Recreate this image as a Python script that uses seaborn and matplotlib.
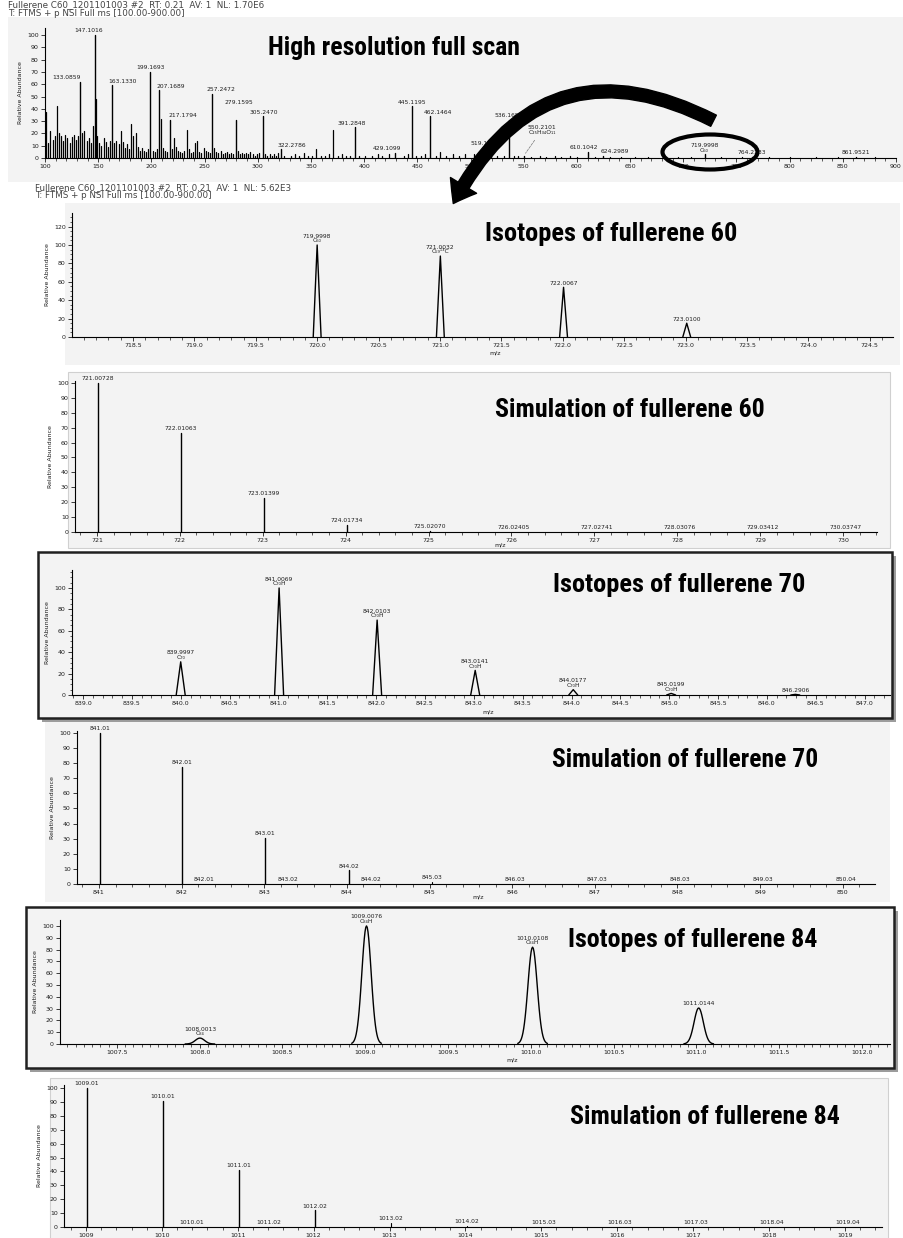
import numpy as np
import pandas as pd
import matplotlib
matplotlib.use("Agg")
import matplotlib.pyplot as plt
import seaborn as sns
from matplotlib import font_manager
from matplotlib.patches import Rectangle, Ellipse, FancyArrowPatch
from matplotlib.ticker import MultipleLocator, FormatStrFormatter

# ---------------- spectra ----------------
# full scan: labelled ions
FULL_MZ = [133.0859, 147.1016, 163.1330, 199.1693, 207.1689, 217.1794, 257.2472,
           279.1595, 305.2470, 322.2786, 391.2848, 429.1099, 445.1195, 462.1464,
           519.1907, 536.1653, 610.1042, 624.2989, 764.2233, 861.9521]
FULL_AB = [62, 100, 59, 70, 55, 31, 52, 31, 34, 7, 25, 4, 42, 34, 8, 31, 5, 2, 1, 1]
C60_FULL_MZ = [719.9998]
C60_FULL_AB = [3]
C60_FULL_TXT = ["719.9998\nC₆₀"]
ION_MZ = [550.2101]
ION_AB = [2]
ION_TXT = ["550.2101\nC₂₅H₃₄O₁₁"]

# full scan: unlabelled background ions
NOISE_MZ = [
    101.1, 103.1, 105.1, 107.1, 109.1, 111.1, 113.1, 115.1, 117.1, 119.1,
    121.1, 123.1, 125.1, 127.1, 129.1, 131.1, 135.1, 137.1, 139.1, 141.1,
    143.1, 145.1, 148.1, 149.1, 151.1, 153.1, 155.1, 157.1, 159.1, 161.1,
    165.1, 167.1, 169.1, 171.1, 173.1, 175.1, 177.1, 179.1, 181.1, 183.1,
    185.1, 187.1, 189.1, 191.1, 193.1, 195.1, 197.1, 201.1, 203.1, 205.1,
    209.1, 211.1, 213.1, 215.1, 219.1, 221.1, 223.1, 225.1, 227.1, 229.1,
    231.1, 233.1, 235.1, 237.1, 239.1, 241.1, 243.1, 245.1, 247.1, 249.1,
    251.1, 253.1, 255.1, 259.1, 261.1, 263.1, 265.1, 267.1, 269.1, 271.1,
    273.1, 275.1, 277.1, 281.1, 283.1, 285.1, 287.1, 289.1, 291.1, 293.1,
    295.1, 297.1, 299.1, 301.1, 307.1, 309.1, 311.1, 313.1, 315.1, 317.1,
    319.1, 325.1, 331.1, 335.1, 339.1, 343.1, 347.1, 351.1, 355.1, 359.1,
    363.1, 367.1, 371.2, 375.1, 379.1, 383.1, 387.1, 395.1, 401.1, 407.1,
    413.1, 417.1, 423.1, 437.1, 441.1, 449.1, 453.1, 457.1, 467.1, 471.1,
    477.1, 483.1, 489.1, 495.1, 503.2, 509.1, 513.1, 525.1, 531.1, 541.1,
    545.1, 557.1, 565.1, 571.1, 579.1, 585.1, 593.1, 600.1, 617.1, 631.1,
    641.1, 655.1, 667.1, 681.1, 695.1, 707.1, 735.2, 755.2, 780.2, 800.2,
    825.2, 845.2, 880.2,
]
NOISE_AB = [
    37, 12, 22, 15, 18, 42, 20, 18, 14, 19,
    16, 12, 17, 19, 15, 18, 20, 22, 14, 16,
    12, 26, 48, 18, 12, 10, 16, 13, 9, 14,
    12, 14, 11, 22, 13, 8, 11, 7, 28, 18,
    20, 9, 6, 8, 6, 5, 7, 6, 5, 7,
    32, 8, 6, 5, 7, 16, 9, 6, 5, 4,
    6, 23, 7, 4, 5, 12, 14, 5, 4, 8,
    6, 5, 4, 8, 5, 4, 6, 3, 4, 5,
    3, 4, 3, 6, 3, 4, 3, 4, 3, 5,
    3, 2, 3, 4, 3, 2, 3, 2, 3, 2,
    4, 2, 2, 3, 2, 4, 2, 2, 7, 2,
    2, 3, 23, 2, 3, 2, 2, 2, 2, 2,
    3, 2, 3, 2, 3, 2, 2, 3, 2, 5,
    2, 3, 2, 3, 3, 2, 2, 2, 1.5, 1.5,
    1.5, 1, 1.5, 1, 1.5, 1, 1.5, 1, 1, 1,
    1, 1, 1, 1, 1, 1, 1, 1, 1, 1,
    1, 1, 1,
]

# C60 isotopes, measured
ISO60_MZ = [719.9998, 721.0032, 722.0067, 723.0100]
ISO60_AB = [100, 88, 54, 15]
ISO60_FORM = ["C₆₀", "C₅₉¹³C", "", ""]

# C60 simulated isotope pattern
SIM60_MZ = [721.00728, 722.01063, 723.01399, 724.01734, 725.02070,
            726.02405, 727.02741, 728.03076, 729.03412, 730.03747]
SIM60_AB = [100, 66.4, 22.8, 5.0, 0.9, 0.15, 0.02, 0.003, 0.0003, 0.00002]

# C70 isotopes, measured
ISO70_MZ = [839.9997, 841.0069, 842.0103, 843.0141, 844.0177, 845.0199, 846.2906]
ISO70_AB = [31, 100, 70, 23, 5, 1.5, 0.6]
ISO70_FORM = ["C₇₀", "C₇₀H", "C₇₀H", "C₇₀H", "C₇₀H", "C₇₀H", ""]

# C70 simulated
SIM70_MZ = [841.01, 842.01, 843.01, 844.02]
SIM70_AB = [100, 77.5, 30.4, 9]
SIM70_MINOR_MZ = [842.01, 843.02, 844.02, 845.03, 846.03, 847.03, 848.03, 849.03, 850.04]
SIM70_MINOR_AB = [0.3, 0.3, 0.3, 1.5, 0.25, 0.03, 0.003, 0.0003, 0.00002]

# C84 isotopes, measured
ISO84_MZ = [1008.0013, 1009.0076, 1010.0108, 1011.0144]
ISO84_AB = [5, 100, 82, 30.5]
ISO84_FORM = ["C₈₄", "C₈₄H", "C₈₄H", ""]

# C84 simulated
SIM84_MZ = [1009.01, 1010.01, 1011.01, 1012.02]
SIM84_AB = [100, 91, 41, 12]
SIM84_MINOR_MZ = [1010.01, 1011.02, 1013.02, 1014.02, 1015.03, 1016.03, 1017.03, 1018.04, 1019.04]
SIM84_MINOR_AB = [0.3, 0.3, 3.0, 0.6, 0.08, 0.01, 0.001, 0.0001, 0.00001]

TITLES = ["High resolution full scan", "Isotopes of fullerene 60", "Simulation of fullerene 60",
          "Isotopes of fullerene 70", "Simulation of fullerene 70", "Isotopes of fullerene 84",
          "Simulation of fullerene 84"]
HEADER_FULL = ["Fullerene C60_1201101003 #2  RT: 0.21  AV: 1  NL: 1.70E6",
               "T: FTMS + p NSI Full ms [100.00-900.00]"]
HEADER_ZOOM = ["Fullerene C60_1201101003 #2  RT: 0.21  AV: 1  NL: 5.62E3",
               "T: FTMS + p NSI Full ms [100.00-900.00]"]

# ---------------- style ----------------
sns.set_theme(style="white")
plt.rcParams["font.family"] = ["DejaVu Sans"]
BG = "#f3f3f3"
INK = "#1e1e1e"

# narrowest installed sans for the panel captions
_installed = {(f.name, f.stretch) for f in font_manager.fontManager.ttflist}
_names = {n for n, _ in _installed}
TITLE_FONT, TITLE_STRETCH = "DejaVu Sans", "normal"
for cand in ["Liberation Sans Narrow", "Roboto Condensed", "Open Sans Condensed",
             "Noto Sans Condensed", "DejaVu Sans Condensed"]:
    if cand in _names:
        TITLE_FONT = cand
        break
else:
    for n, s in _installed:
        if n in ("DejaVu Sans", "Noto Sans", "Open Sans", "Roboto") and s in (
                "condensed", "semi-condensed", "extra-condensed", 75, 87.5, 62.5):
            TITLE_FONT, TITLE_STRETCH = n, s
            break

W, H = 904, 1238
fig = plt.figure(figsize=(W / 100, H / 100), dpi=100)
fig.patch.set_facecolor("white")


def fbox(l, t, r, b):
    return [l / W, 1 - b / H, (r - l) / W, (b - t) / H]


def fxy(x, y):
    return (x / W, 1 - y / H)


def ftext(x, y, s, **kw):
    return fig.text(x / W, 1 - y / H, s, **kw)


def panel_bg(l, t, r, b, edge=None):
    fig.add_artist(Rectangle(fxy(l, b), (r - l) / W, (b - t) / H, transform=fig.transFigure,
                             facecolor=BG, edgecolor=edge or "none", lw=0.8, zorder=-5))


def framed_bg(l, t, r, b):
    fig.add_artist(Rectangle(fxy(l + 4, b + 4), (r - l) / W, (b - t) / H, transform=fig.transFigure,
                             facecolor="#9c9c9c", edgecolor="none", zorder=-6))
    fig.add_artist(Rectangle(fxy(l, b), (r - l) / W, (b - t) / H, transform=fig.transFigure,
                             facecolor=BG, edgecolor="#202020", lw=1.8, zorder=-5))


def stick_df(mz, ab):
    rows = []
    for i, (m, a) in enumerate(zip(mz, ab)):
        rows += [(i, m, 0.0), (i, m, a)]
    return pd.DataFrame(rows, columns=["peak", "mz", "ab"])


def triangle_df(mz, ab, hw):
    rows = []
    for i, (m, a) in enumerate(zip(mz, ab)):
        rows += [(i, m - hw, 0.0), (i, m, a), (i, m + hw, 0.0)]
    return pd.DataFrame(rows, columns=["peak", "mz", "ab"])


def gauss_df(mz, ab, sigma):
    rows = []
    u = np.linspace(-3.2, 3.2, 41)
    for i, (m, a) in enumerate(zip(mz, ab)):
        for v in u:
            rows.append((i, m + v * sigma, a * np.exp(-0.5 * v * v)))
    return pd.DataFrame(rows, columns=["peak", "mz", "ab"])


def draw(ax, df, lw=1.0):
    sns.lineplot(data=df, x="mz", y="ab", units="peak", estimator=None, sort=False,
                 color="black", linewidth=lw, ax=ax, legend=False)


def style(ax, xlim, ylim, xmaj, xmin, ymaj, ymin, xfmt):
    ax.set_xlim(xlim)
    ax.set_ylim(ylim)
    ax.set_facecolor("none")
    for s in ["top", "right"]:
        ax.spines[s].set_visible(False)
    for s in ["left", "bottom"]:
        ax.spines[s].set_color("black")
        ax.spines[s].set_linewidth(0.8)
    ax.xaxis.set_major_locator(MultipleLocator(xmaj))
    ax.xaxis.set_minor_locator(MultipleLocator(xmin))
    ax.yaxis.set_major_locator(MultipleLocator(ymaj))
    if ymin:
        ax.yaxis.set_minor_locator(MultipleLocator(ymin))
    ax.xaxis.set_major_formatter(FormatStrFormatter(xfmt))
    ax.yaxis.set_major_formatter(FormatStrFormatter("%d"))
    ax.tick_params(which="major", direction="out", length=3, width=0.6, labelsize=4.5,
                   pad=1.5, colors=INK, bottom=True, left=True)
    ax.tick_params(which="minor", direction="out", length=1.8, width=0.5, colors=INK,
                   bottom=True, left=True)
    ax.set_xlabel("")
    ax.set_ylabel("Relative Abundance", fontsize=4.5, labelpad=3, color=INK)


def label_peaks(ax, mz, ab, texts, shifts=None, fs=4.3):
    for i, (m, a, t) in enumerate(zip(mz, ab, texts)):
        dx, dy = shifts[i] if shifts else (0, 0)
        ax.annotate(t, xy=(m, a), xytext=(dx * 0.72, 1.2 + dy * 0.72), textcoords="offset points",
                    ha="center", va="bottom", fontsize=fs, linespacing=0.95, color=INK,
                    annotation_clip=False)


captions = []


def title(l, r, yc, s):
    t = ftext((l + r) / 2, yc, s, ha="center", va="center", fontsize=20, color="black",
              family=[TITLE_FONT, "DejaVu Sans"], fontstretch=TITLE_STRETCH,
              fontweight="bold", zorder=6)
    captions.append((t, r - l))


def mz_label(x, y):
    ftext(x, y, "m/z", ha="center", va="center", fontsize=4.5, color=INK)


# ---------------- panel 1: full scan ----------------
panel_bg(8, 17, 904, 182)
for k, line in enumerate(HEADER_FULL):
    ftext(8, 5 + 8 * k, line, fontsize=6.3, color="#444", va="center")
ax1 = fig.add_axes(fbox(45, 28, 896, 158))
draw(ax1, stick_df(NOISE_MZ, NOISE_AB), lw=0.9)
draw(ax1, stick_df(FULL_MZ + C60_FULL_MZ + ION_MZ, FULL_AB + C60_FULL_AB + ION_AB), lw=1.0)
style(ax1, (100, 900), (0, 105.7), 50, 10, 10, None, "%d")
FULL_SHIFT = [(-14, 0), (-6, 0), (10, 0), (0, 0), (12, 0), (13, 0), (9, 0), (3, 13), (0, 0),
              (10, 0), (-3, 0), (-8, 0), (0, 0), (8, 0), (-6, 0), (0, 0), (-4, 0), (12, 0),
              (0, 0), (0, 0)]
label_peaks(ax1, FULL_MZ, FULL_AB, [f"{m:.4f}" for m in FULL_MZ], FULL_SHIFT)
label_peaks(ax1, C60_FULL_MZ, C60_FULL_AB, C60_FULL_TXT)
ax1.annotate(ION_TXT[0], xy=(ION_MZ[0], ION_AB[0]), xytext=(13, 15), textcoords="offset points",
             ha="center", va="bottom", fontsize=4.3, linespacing=0.95, color=INK,
             arrowprops=dict(arrowstyle="-", ls="--", lw=0.5, color="#777"))
title(268, 520, 48, TITLES[0])

# ---------------- panel 2: isotopes C60 ----------------
panel_bg(65, 203, 900, 365)
for k, line in enumerate(HEADER_ZOOM):
    ftext(35, 188 + 8 * k, line, fontsize=6.3, color="#444", va="center")
ax2 = fig.add_axes(fbox(72, 213, 893, 337))
draw(ax2, triangle_df(ISO60_MZ, ISO60_AB, 0.032), lw=1.0)
style(ax2, (718.003, 724.69), (0, 134.8), 0.5, 0.1, 20, 5, "%.1f")
label_peaks(ax2, ISO60_MZ, ISO60_AB,
            [f"{m:.4f}\n{f}" if f else f"{m:.4f}" for m, f in zip(ISO60_MZ, ISO60_FORM)])
mz_label(495, 353)
title(485, 737, 234, TITLES[1])

# ---------------- panel 3: simulation C60 ----------------
panel_bg(68, 372, 890, 548, edge="#d0d0d0")
ax3 = fig.add_axes(fbox(75, 381, 877, 532))
draw(ax3, stick_df(SIM60_MZ, SIM60_AB), lw=1.0)
style(ax3, (720.735, 730.41), (0, 101.3), 1, 0.2, 10, None, "%d")
label_peaks(ax3, SIM60_MZ, SIM60_AB, [f"{m:.5f}" for m in SIM60_MZ])
mz_label(500, 545)
title(495, 765, 410, TITLES[2])

# ---------------- panel 4: isotopes C70 ----------------
framed_bg(38, 552, 892, 718)
ax4 = fig.add_axes(fbox(72, 570, 890, 695))
draw(ax4, triangle_df(ISO70_MZ, ISO70_AB, 0.046), lw=1.0)
style(ax4, (838.887, 847.26), (0, 116.8), 0.5, 0.1, 20, 5, "%.1f")
label_peaks(ax4, ISO70_MZ, ISO70_AB,
            [f"{m:.4f}\n{f}" if f else f"{m:.4f}" for m, f in zip(ISO70_MZ, ISO70_FORM)])
mz_label(488, 712)
title(553, 805, 585, TITLES[3])

# ---------------- panel 5: simulation C70 ----------------
panel_bg(45, 722, 890, 902)
ax5 = fig.add_axes(fbox(77, 731, 875, 884))
draw(ax5, stick_df(SIM70_MINOR_MZ, SIM70_MINOR_AB), lw=0.8)
draw(ax5, stick_df(SIM70_MZ, SIM70_AB), lw=1.0)
style(ax5, (840.734, 850.39), (0, 101.3), 1, 0.2, 10, None, "%d")
label_peaks(ax5, SIM70_MZ, SIM70_AB, [f"{m:.2f}" for m in SIM70_MZ])
label_peaks(ax5, SIM70_MINOR_MZ, SIM70_MINOR_AB, [f"{m:.2f}" for m in SIM70_MINOR_MZ],
            [(22, 0), (22, 0), (22, 0)] + [(0, 0)] * 6)
mz_label(478, 897)
title(553, 818, 760, TITLES[4])

# ---------------- panel 6: isotopes C84 ----------------
framed_bg(26, 907, 894, 1068)
ax6 = fig.add_axes(fbox(60, 920, 890, 1044))
draw(ax6, gauss_df(ISO84_MZ, ISO84_AB, 0.028), lw=1.0)
style(ax6, (1007.156, 1012.17), (0, 105), 0.5, 0.05, 10, None, "%.1f")
label_peaks(ax6, ISO84_MZ, ISO84_AB,
            [f"{m:.4f}\n{f}" if f else f"{m:.4f}" for m, f in zip(ISO84_MZ, ISO84_FORM)])
mz_label(512, 1060)
title(568, 818, 940, TITLES[5])

# ---------------- panel 7: simulation C84 ----------------
panel_bg(50, 1078, 888, 1240, edge="#d0d0d0")
ax7 = fig.add_axes(fbox(64, 1085, 882, 1227))
draw(ax7, stick_df(SIM84_MINOR_MZ, SIM84_MINOR_AB), lw=0.8)
draw(ax7, stick_df(SIM84_MZ, SIM84_AB), lw=1.0)
style(ax7, (1008.71, 1019.49), (0, 102.2), 1, 0.2, 10, None, "%d")
label_peaks(ax7, SIM84_MZ, SIM84_AB, [f"{m:.2f}" for m in SIM84_MZ])
label_peaks(ax7, SIM84_MINOR_MZ, SIM84_MINOR_AB, [f"{m:.2f}" for m in SIM84_MINOR_MZ],
            [(29, 0), (29, 0)] + [(0, 0)] * 7)
title(570, 840, 1117, TITLES[6])

# ---------------- zoom marker: ellipse + curved arrow ----------------
fig.add_artist(Ellipse(fxy(710, 152), 95 / W, 35 / H, transform=fig.transFigure,
                       facecolor="none", edgecolor="black", lw=3, zorder=7))
fig.add_artist(FancyArrowPatch(fxy(716, 122), fxy(452, 206), transform=fig.transFigure,
                               connectionstyle="arc3,rad=0.5",
                               arrowstyle="simple,head_length=0.75,head_width=1.1,tail_width=0.45",
                               mutation_scale=20, color="black", zorder=7))

# size each caption so it spans its slot
fig.canvas.draw()
renderer = fig.canvas.get_renderer()
for t, target in captions:
    w = t.get_window_extent(renderer).width
    t.set_fontsize(t.get_fontsize() * target / w)

fig.savefig("out.png", dpi=100, facecolor="white")
